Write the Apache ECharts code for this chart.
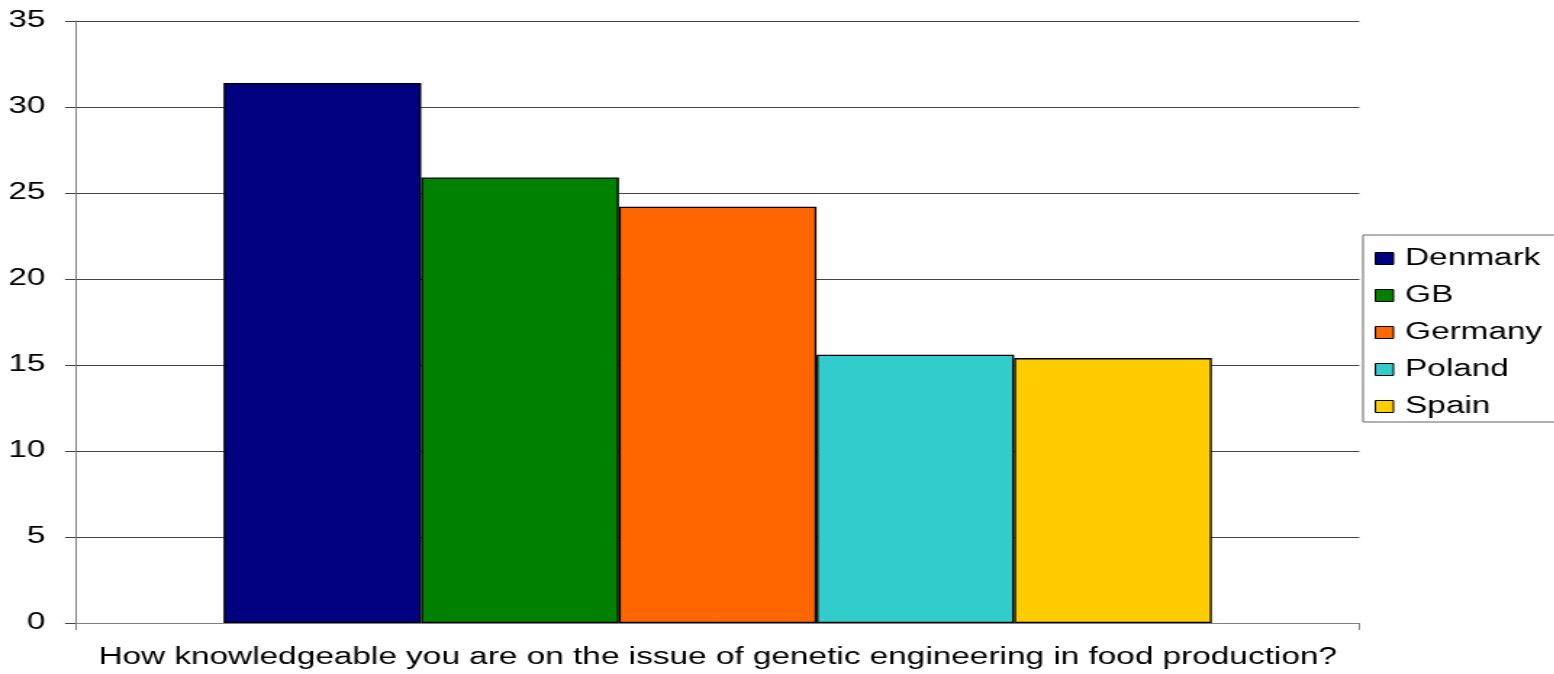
<!DOCTYPE html>
<html>
<head>
<meta charset="utf-8">
<script src="https://cdn.jsdelivr.net/npm/echarts@6/dist/echarts.min.js"></script>
<style>
  html, body { margin: 0; padding: 0; background: #fff; overflow: hidden; }
  /* chart is laid out narrower and stretched horizontally to the page width */
  #chart { width: 1071.7px; height: 674px; transform: scaleX(1.45); transform-origin: 0 0; }
</style>
</head>
<body>
<div id="chart"></div>
<script>
// Survey question shown as the single category
const question = 'How knowledgeable you are on the issue of genetic engineering in food production?';
const countries = ['Denmark', 'GB', 'Germany', 'Poland', 'Spain'];
const values = [31.4, 25.9, 24.2, 15.6, 15.4];
const colors = ['#000080', '#008000', '#FF6600', '#33CCCC', '#FFCC00'];
const yTicks = { min: 0, max: 35, interval: 5 };

const FONT = 'Liberation Sans, Arial, sans-serif';

const chart = echarts.init(document.getElementById('chart'), null, { renderer: 'canvas' });

chart.setOption({
  animation: false,
  backgroundColor: '#fff',
  textStyle: { fontFamily: FONT, color: '#000' },
  grid: { left: 52.4, right: 134.5, top: 21, bottom: 49, containLabel: false },
  legend: {
    orient: 'vertical',
    left: 940,
    top: 235,
    width: 200,
    padding: [12, 80, 4, 8],
    itemGap: 14,
    itemWidth: 12.5,
    itemHeight: 12,
    icon: 'rect',
    borderColor: '#666',
    borderWidth: 1,
    itemStyle: { borderColor: '#000', borderWidth: 1 },
    textStyle: { fontFamily: FONT, fontSize: 23, color: '#000', padding: [0, 0, 0, 3] },
    data: countries
  },
  xAxis: {
    type: 'category',
    data: [question],
    boundaryGap: true,
    name: question,
    nameLocation: 'middle',
    nameGap: 23,
    nameTextStyle: { fontFamily: FONT, fontSize: 23, color: '#000' },
    axisLine: { lineStyle: { color: '#808080', width: 1 } },
    axisTick: { show: true, length: 7, lineStyle: { color: '#808080' } },
    axisLabel: { show: false },
    splitLine: { show: false }
  },
  yAxis: {
    type: 'value',
    min: yTicks.min,
    max: yTicks.max,
    interval: yTicks.interval,
    axisLine: { show: true, lineStyle: { color: '#808080', width: 1 } },
    axisTick: { show: true, length: 7.6, lineStyle: { color: '#444' } },
    axisLabel: { fontFamily: FONT, fontSize: 23, color: '#000', margin: 21 },
    splitLine: { show: true, lineStyle: { color: '#444', width: 1 } }
  },
  series: countries.map((name, i) => ({
    name,
    type: 'bar',
    data: [values[i]],
    barGap: '0%',
    barCategoryGap: '23%',
    itemStyle: { color: colors[i], borderColor: '#000', borderWidth: 1.3 },
    emphasis: { disabled: true }
  }))
});
</script>
</body>
</html>
